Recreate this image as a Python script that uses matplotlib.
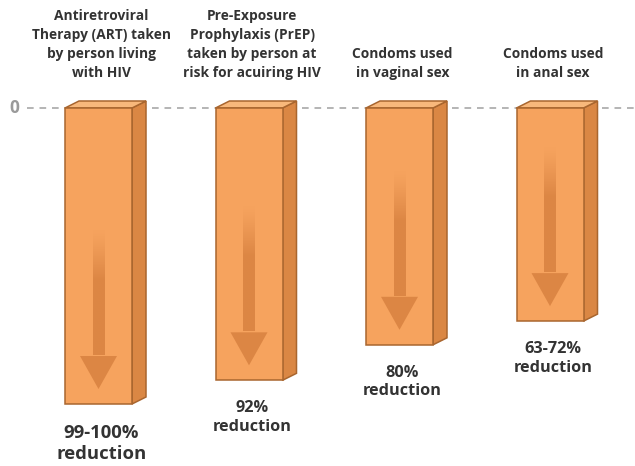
import matplotlib
matplotlib.use("Agg")
import matplotlib.pyplot as plt
from matplotlib.patches import Polygon, Rectangle
from matplotlib.colors import to_rgb
import numpy as np

# ---- data ----
categories = [
    "Antiretroviral\nTherapy (ART) taken\nby person living\nwith HIV",
    "Pre-Exposure\nProphylaxis (PrEP)\ntaken by person at\nrisk for acuiring HIV",
    "Condoms used\nin vaginal sex",
    "Condoms used\nin anal sex",
]
reductions = [100, 92, 80, 72]
value_labels = ["99-100%\nreduction", "92%\nreduction", "80%\nreduction", "63-72%\nreduction"]

# ---- style ----
FRONT = "#F6A35E"
SIDE = "#DA8744"
TOP = "#F8B87B"
EDGE = "#A9662F"
ARROW = "#DC8644"
TEXT = "#333333"

W, H, DPI = 635, 466, 100
fig = plt.figure(figsize=(W / DPI, H / DPI), dpi=DPI)
ax = fig.add_axes([0, 0, 1, 1])
ax.axis("off")

px_x = 150.5          # pixels per category unit
px_y = 2.96           # pixels per value unit
x0_px, y0_px = 98.5, 108
ax.set_xlim(-x0_px / px_x, (W - x0_px) / px_x)
ax.set_ylim(-(H - y0_px) / px_y, y0_px / px_y)

bw = 67 / px_x
dx = 14 / px_x
dy = 7 / px_y

xs = np.arange(len(categories))

# zero line
ax.plot([27 / px_x + ax.get_xlim()[0], ax.get_xlim()[1]], [0, 0], color="#A8A8A8",
        lw=1.2, dashes=(4, 3.5), zorder=1)
ax.text(ax.get_xlim()[0] + 14 / px_x, 0, "0", ha="center", va="center",
        color="#9A9A9A", fontsize=12.5, fontweight="bold", family="Open Sans")

vals = [-v for v in reductions]
ax.bar(xs, vals, width=bw, color=FRONT, edgecolor=EDGE, linewidth=1.1, zorder=3)

fr = np.array(to_rgb(FRONT))
ar = np.array(to_rgb(ARROW))

for x, v in zip(xs, vals):
    l, r = x - bw / 2, x + bw / 2
    side = Polygon([(r, 0), (r + dx, dy), (r + dx, v + dy), (r, v)], closed=True,
                   facecolor=SIDE, edgecolor=EDGE, lw=1.1, zorder=2)
    top = Polygon([(l, 0), (l + dx, dy), (r + dx, dy), (r, 0)], closed=True,
                  facecolor=TOP, edgecolor=EDGE, lw=1.1, zorder=2)
    ax.add_patch(side)
    ax.add_patch(top)

    # arrow
    tip = v + 15 / px_y
    start = tip + 158 / px_y
    head_len = 33 / px_y
    shaft_w = 12 / px_x
    head_w = 37 / px_x
    head_top = tip + head_len
    head = Polygon([(x - head_w / 2, head_top), (x + head_w / 2, head_top), (x, tip)],
                   closed=True, facecolor=ARROW, edgecolor="none", zorder=4)
    ax.add_patch(head)
    # gradient shaft
    npx = 200
    t = np.linspace(0, 1, npx)[:, None]
    fade = 50 / 125
    a = np.clip(t / fade, 0, 1) ** 1.2
    img = fr[None, :] * (1 - a[:, :, None][:, 0]) + ar[None, :] * a[:, :, None][:, 0]
    img = img[:, None, :]
    ax.imshow(img, extent=(x - shaft_w / 2, x + shaft_w / 2, head_top + 0.3, start),
              origin="upper", aspect="auto", zorder=4, interpolation="bilinear")

ax.set_xlim(-x0_px / px_x, (W - x0_px) / px_x)
ax.set_ylim(-(H - y0_px) / px_y, y0_px / px_y)

# category labels
for x, lab in zip(xs, categories):
    ax.text(x + 0.02, 28 / px_y, lab, ha="center", va="bottom", color=TEXT,
            fontsize=9.9, fontweight="bold", family="Open Sans", linespacing=1.45)

# value labels
for i, (x, v, lab) in enumerate(zip(xs, vals, value_labels)):
    fs = 13.3 if i == 0 else 11.7
    ax.text(x + 0.02, v - 20 / px_y, lab, ha="center", va="top", color=TEXT,
            fontsize=fs, fontweight="bold", family="Open Sans", linespacing=1.2)

fig.savefig("out.png", dpi=DPI)
